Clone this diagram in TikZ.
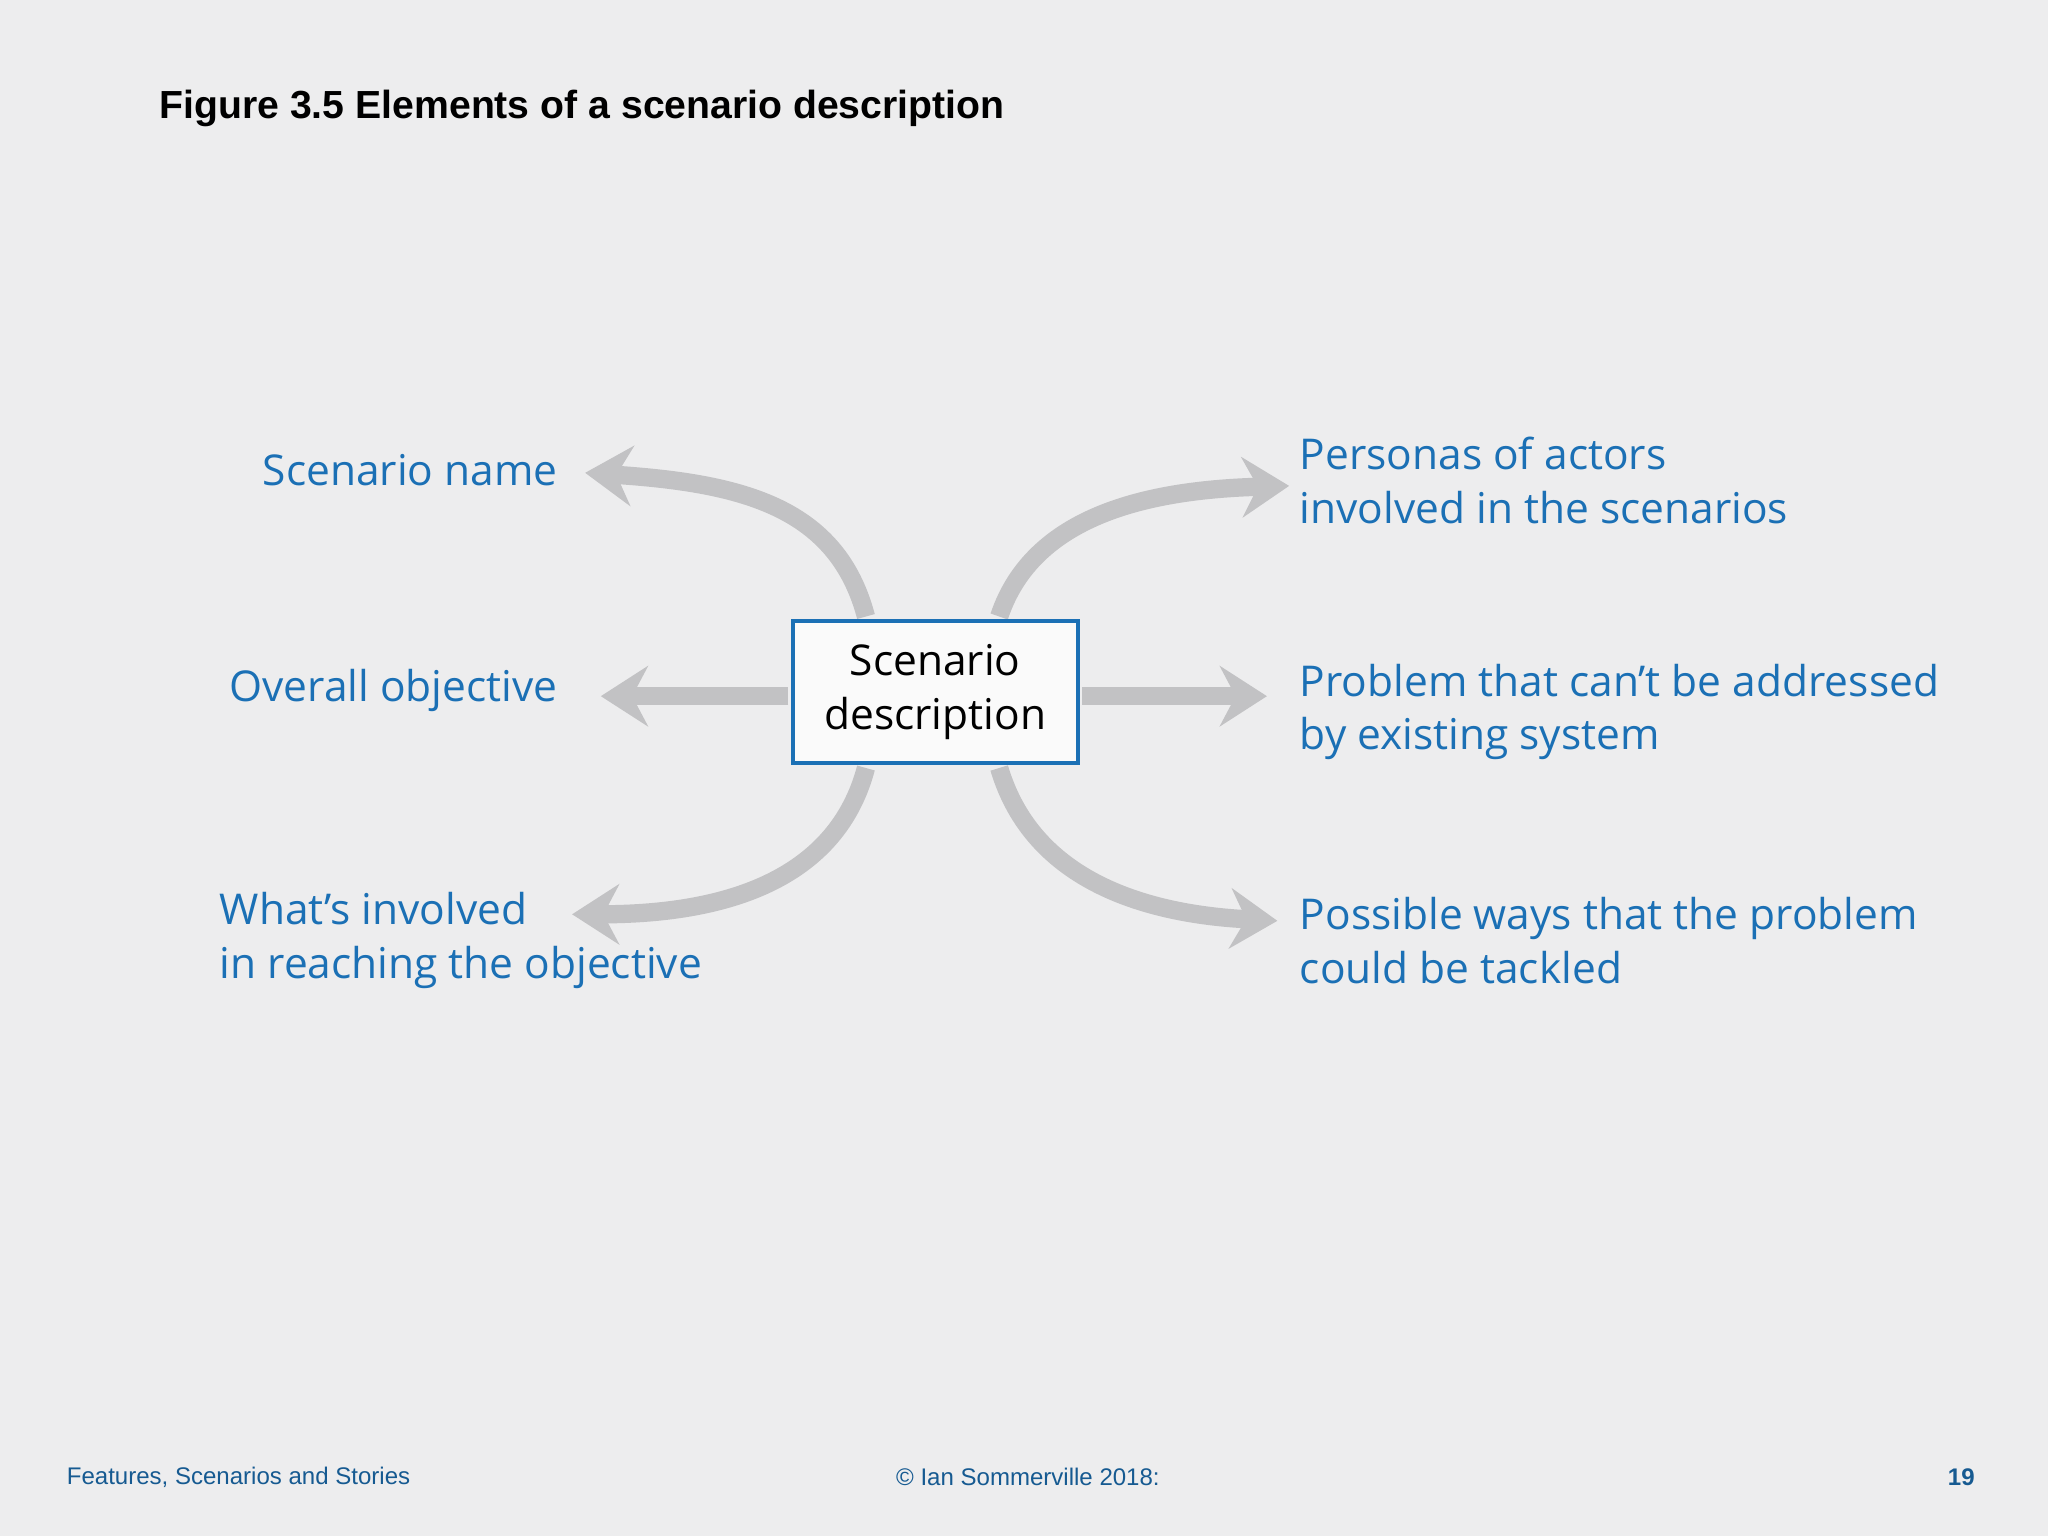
\documentclass[tikz,border=0pt]{standalone}
\usepackage{fontspec}
\setmainfont{Open Sans}
\newfontfamily\helv{Liberation Sans}
\usetikzlibrary{arrows.meta,calc}
\definecolor{bg}{HTML}{EDEDEE}
\definecolor{tblue}{HTML}{1B70B5}
\definecolor{agray}{HTML}{C2C2C4}
\tikzset{
 lbl/.style={text=tblue,font=\fontsize{32.5}{41}\selectfont,align=left,inner sep=0pt},
 arr/.style={draw=agray,line width=14pt,-{Stealth[length=36pt,width=46pt,inset=12pt]}},
 cbox/.style={draw=tblue,line width=3pt,fill=white!70!bg,minimum width=218pt,minimum height=109pt,align=center,font=\fontsize{32.5}{41}\selectfont,inner sep=0pt},
}
\begin{document}
\begin{tikzpicture}[x=1pt,y=-1pt]
\fill[bg] (0,0) rectangle (1568,1176);
\useasboundingbox (0,0) rectangle (1568,1176);
\node[anchor=west,inner sep=0pt,font=\helv\bfseries\fontsize{30}{34}\selectfont] (title) at (122,83) {Figure 3.5 Elements of a scenario description};
\node[cbox] (box) at (716,530) {Scenario\\ description};
\coordinate (t1) at (448,362);
\coordinate (t2) at (987,372);
\coordinate (t3) at (460,533);
\coordinate (t4) at (970,533);
\coordinate (t5) at (438,700);
\coordinate (t6) at (978,705);
\draw[arr] ($(box.north)+(-53,-2)$) .. controls ($(box.north)+(-75,-85)$) and (570,370) .. (t1);
\draw[arr] ($(box.north)+(49,-2)$) .. controls ($(box.north)+(75,-80)$) and (880,375) .. (t2);
\draw[arr] ($(box.west)+(-2,3)$) -- (t3);
\draw[arr] ($(box.east)+(2,3)$) -- (t4);
\draw[arr] ($(box.south)+(-53,2)$) .. controls ($(box.south)+(-75,85)$) and (560,700) .. (t5);
\draw[arr] ($(box.south)+(49,2)$) .. controls ($(box.south)+(75,90)$) and (880,700) .. (t6);
\node[cbox] at (box) {Scenario\\ description};
\node[lbl,anchor=east] (l1) at (427,360) {Scenario name};
\node[lbl,anchor=east] (l3) at (427,529) {Overall objective};
\node[lbl,anchor=west] (l5) at (168,720) {What’s involved\\in reaching the objective};
\node[lbl,anchor=west] (l2) at (995,368) {Personas of actors\\involved in the scenarios};
\node[lbl,anchor=west] (l4) at (995,545) {Problem that can’t be addressed\\by existing system};
\node[lbl,anchor=west] (l6) at (995,720) {Possible ways that the problem\\could be tackled};
\node[anchor=west,inner sep=0pt,text=tblue!80!black,font=\helv\fontsize{18.4}{22}\selectfont] (f1) at (51,1131) {Features, Scenarios and Stories};
\node[inner sep=0pt,text=tblue!80!black,font=\helv\fontsize{18.4}{22}\selectfont] (f2) at (787,1131) {\textcopyright{} Ian Sommerville 2018:};
\node[anchor=east,inner sep=0pt,text=tblue!80!black,font=\helv\bfseries\fontsize{18.4}{22}\selectfont] (f3) at (1512,1131) {19};
\end{tikzpicture}
\end{document}
